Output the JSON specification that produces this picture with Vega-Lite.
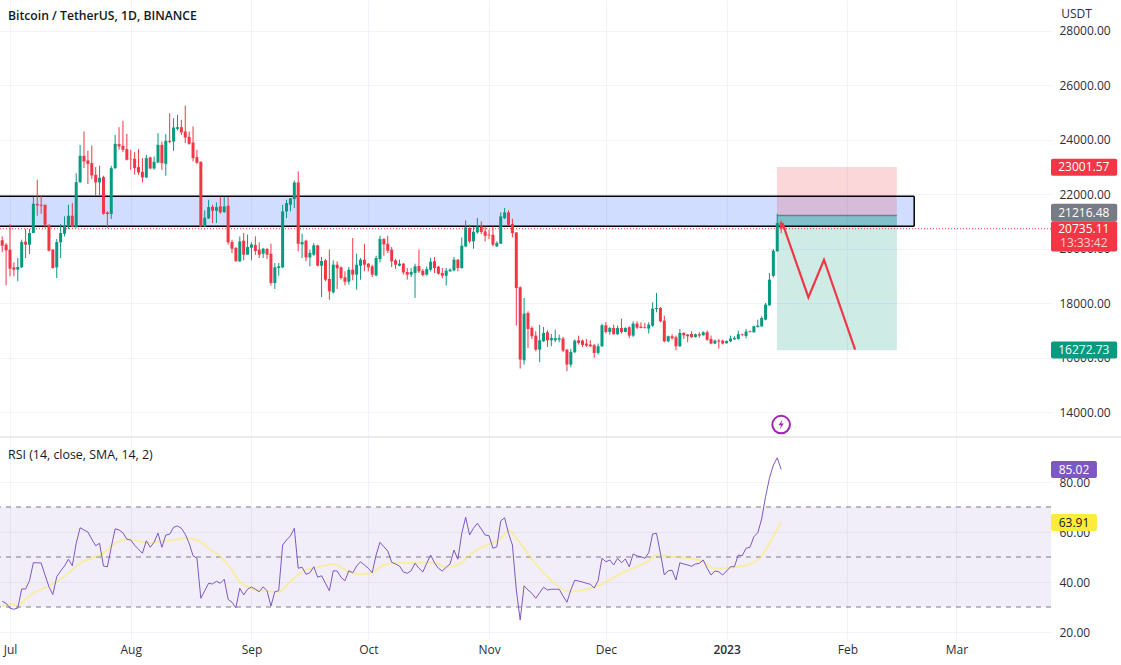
{
"$schema":"https://vega.github.io/schema/vega-lite/v6.json",
"padding":{"left":-1,"top":0,"right":0,"bottom":10},"spacing":0,"bounds":"flush","background":"white",
"config":{"view":{"stroke":null},"font":"Open Sans","concat":{"spacing":0},
"axis":{"gridColor":"#f0f3fa","gridWidth":1,"labelColor":"#2a2e39","labelFontSize":12,"labelFont":"Open Sans","title":null,"ticks":false,"domain":false,"zindex":0}},
"datasets":{
"candles":[
{"d":"2022-06-28","o":20821,"h":20882,"l":20087,"c":20331},
{"d":"2022-06-29","o":20307,"h":20454,"l":19867,"c":20111},
{"d":"2022-06-30","o":20148,"h":20209,"l":18656,"c":19940},
{"d":"2022-07-01","o":19965,"h":20906,"l":18986,"c":19268},
{"d":"2022-07-02","o":19316,"h":19500,"l":18986,"c":19231},
{"d":"2022-07-03","o":19231,"h":19659,"l":18803,"c":19329},
{"d":"2022-07-04","o":19316,"h":20331,"l":19292,"c":20246},
{"d":"2022-07-05","o":20258,"h":20723,"l":19659,"c":20148},
{"d":"2022-07-06","o":20148,"h":20723,"l":19806,"c":20576},
{"d":"2022-07-07","o":20576,"h":21897,"l":20576,"c":21652},
{"d":"2022-07-08","o":21652,"h":22533,"l":21212,"c":21591},
{"d":"2022-07-09","o":21616,"h":21946,"l":21285,"c":21579},
{"d":"2022-07-10","o":21616,"h":21616,"l":20760,"c":20882},
{"d":"2022-07-11","o":20882,"h":20882,"l":19904,"c":19928},
{"d":"2022-07-12","o":19965,"h":19989,"l":19268,"c":19292},
{"d":"2022-07-13","o":19316,"h":20356,"l":18925,"c":20246},
{"d":"2022-07-14","o":20234,"h":20906,"l":19659,"c":20576},
{"d":"2022-07-15","o":20552,"h":21188,"l":20454,"c":20857},
{"d":"2022-07-16","o":20821,"h":21616,"l":20723,"c":21212},
{"d":"2022-07-17","o":21212,"h":21677,"l":20796,"c":20796},
{"d":"2022-07-18","o":20784,"h":22778,"l":20784,"c":22447},
{"d":"2022-07-19","o":22447,"h":23817,"l":22411,"c":23413},
{"d":"2022-07-20","o":23413,"h":24306,"l":22961,"c":23206},
{"d":"2022-07-21","o":23242,"h":23597,"l":22374,"c":23120},
{"d":"2022-07-22","o":23144,"h":23793,"l":22557,"c":22692},
{"d":"2022-07-23","o":22716,"h":22998,"l":21946,"c":22435},
{"d":"2022-07-24","o":22435,"h":23047,"l":21946,"c":22606},
{"d":"2022-07-25","o":22631,"h":22680,"l":21249,"c":21285},
{"d":"2022-07-26","o":21334,"h":21371,"l":20760,"c":21273},
{"d":"2022-07-27","o":21273,"h":23047,"l":21090,"c":22961},
{"d":"2022-07-28","o":22961,"h":24184,"l":22924,"c":23854},
{"d":"2022-07-29","o":23842,"h":24465,"l":23634,"c":23756},
{"d":"2022-07-30","o":23780,"h":24698,"l":23548,"c":23634},
{"d":"2022-07-31","o":23658,"h":24221,"l":23242,"c":23267},
{"d":"2022-08-01","o":23303,"h":23634,"l":22900,"c":23291},
{"d":"2022-08-02","o":23303,"h":23548,"l":22716,"c":22961},
{"d":"2022-08-03","o":22998,"h":23658,"l":22716,"c":22802},
{"d":"2022-08-04","o":22826,"h":23328,"l":22435,"c":22619},
{"d":"2022-08-05","o":22619,"h":23450,"l":22594,"c":23328},
{"d":"2022-08-06","o":23352,"h":23389,"l":22924,"c":22949},
{"d":"2022-08-07","o":22949,"h":23389,"l":22900,"c":23193},
{"d":"2022-08-08","o":23169,"h":24245,"l":23144,"c":23817},
{"d":"2022-08-09","o":23817,"h":23939,"l":22900,"c":23144},
{"d":"2022-08-10","o":23120,"h":24208,"l":22680,"c":23964},
{"d":"2022-08-11","o":23964,"h":24979,"l":23878,"c":23927},
{"d":"2022-08-12","o":23939,"h":24795,"l":23597,"c":24453},
{"d":"2022-08-13","o":24404,"h":24918,"l":24343,"c":24465},
{"d":"2022-08-14","o":24465,"h":24734,"l":24184,"c":24270},
{"d":"2022-08-15","o":24306,"h":25260,"l":23878,"c":24086},
{"d":"2022-08-16","o":24111,"h":24306,"l":23817,"c":23854},
{"d":"2022-08-17","o":23903,"h":24490,"l":23206,"c":23328},
{"d":"2022-08-18","o":23365,"h":23634,"l":23120,"c":23157},
{"d":"2022-08-19","o":23193,"h":23206,"l":20796,"c":20821},
{"d":"2022-08-20","o":20821,"h":21408,"l":20796,"c":21139},
{"d":"2022-08-21","o":21114,"h":21799,"l":21090,"c":21530},
{"d":"2022-08-22","o":21542,"h":21616,"l":20943,"c":21396},
{"d":"2022-08-23","o":21396,"h":21701,"l":20943,"c":21530},
{"d":"2022-08-24","o":21554,"h":21897,"l":21285,"c":21334},
{"d":"2022-08-25","o":21347,"h":21897,"l":21310,"c":21554},
{"d":"2022-08-26","o":21579,"h":21897,"l":20148,"c":20234},
{"d":"2022-08-27","o":20246,"h":20331,"l":19842,"c":20001},
{"d":"2022-08-28","o":20026,"h":20062,"l":19536,"c":19536},
{"d":"2022-08-29","o":19536,"h":20454,"l":19512,"c":20270},
{"d":"2022-08-30","o":20295,"h":20576,"l":19573,"c":19781},
{"d":"2022-08-31","o":19781,"h":20515,"l":19781,"c":20062},
{"d":"2022-09-01","o":20038,"h":20234,"l":19573,"c":20160},
{"d":"2022-09-02","o":20136,"h":20454,"l":19781,"c":19916},
{"d":"2022-09-03","o":19965,"h":20234,"l":19659,"c":19781},
{"d":"2022-09-04","o":19818,"h":20026,"l":19659,"c":20001},
{"d":"2022-09-05","o":19989,"h":20026,"l":19622,"c":19781},
{"d":"2022-09-06","o":19817,"h":20184,"l":18643,"c":18741},
{"d":"2022-09-07","o":18741,"h":19475,"l":18521,"c":19316},
{"d":"2022-09-08","o":19291,"h":19475,"l":19010,"c":19352},
{"d":"2022-09-09","o":19316,"h":21615,"l":19291,"c":21370},
{"d":"2022-09-10","o":21370,"h":21798,"l":21126,"c":21676},
{"d":"2022-09-11","o":21615,"h":21859,"l":21370,"c":21859},
{"d":"2022-09-12","o":21823,"h":22508,"l":21493,"c":22434},
{"d":"2022-09-13","o":22434,"h":22838,"l":19903,"c":20184},
{"d":"2022-09-14","o":20160,"h":20551,"l":19658,"c":20245},
{"d":"2022-09-15","o":20294,"h":20331,"l":19536,"c":19682},
{"d":"2022-09-16","o":19682,"h":19964,"l":19352,"c":19842},
{"d":"2022-09-17","o":19780,"h":20208,"l":19744,"c":20123},
{"d":"2022-09-18","o":20123,"h":20147,"l":19352,"c":19377},
{"d":"2022-09-19","o":19377,"h":19695,"l":18227,"c":19548},
{"d":"2022-09-20","o":19572,"h":19621,"l":18802,"c":18863},
{"d":"2022-09-21","o":18887,"h":19964,"l":18129,"c":18435},
{"d":"2022-09-22","o":18398,"h":19572,"l":18349,"c":19413},
{"d":"2022-09-23","o":19413,"h":19536,"l":18521,"c":19279},
{"d":"2022-09-24","o":19316,"h":19352,"l":18863,"c":18924},
{"d":"2022-09-25","o":18949,"h":19169,"l":18655,"c":18790},
{"d":"2022-09-26","o":18790,"h":19328,"l":18680,"c":19230},
{"d":"2022-09-27","o":19230,"h":20392,"l":18839,"c":19047},
{"d":"2022-09-28","o":19047,"h":19817,"l":18496,"c":19413},
{"d":"2022-09-29","o":19377,"h":19658,"l":18863,"c":19597},
{"d":"2022-09-30","o":19597,"h":20184,"l":19169,"c":19413},
{"d":"2022-10-01","o":19450,"h":19475,"l":19169,"c":19316},
{"d":"2022-10-02","o":19352,"h":19413,"l":18961,"c":19047},
{"d":"2022-10-03","o":19022,"h":19744,"l":18985,"c":19658},
{"d":"2022-10-04","o":19621,"h":20477,"l":19499,"c":20355},
{"d":"2022-10-05","o":20355,"h":20392,"l":19744,"c":20160},
{"d":"2022-10-06","o":20184,"h":20477,"l":19842,"c":19927},
{"d":"2022-10-07","o":19964,"h":20062,"l":19328,"c":19536},
{"d":"2022-10-08","o":19572,"h":19621,"l":19254,"c":19413},
{"d":"2022-10-09","o":19377,"h":19597,"l":19352,"c":19450},
{"d":"2022-10-10","o":19450,"h":19475,"l":19047,"c":19132},
{"d":"2022-10-11","o":19144,"h":19291,"l":18863,"c":19047},
{"d":"2022-10-12","o":19047,"h":19291,"l":18961,"c":19144},
{"d":"2022-10-13","o":19108,"h":19450,"l":18190,"c":19352},
{"d":"2022-10-14","o":19365,"h":19964,"l":19108,"c":19169},
{"d":"2022-10-15","o":19193,"h":19254,"l":18985,"c":19034},
{"d":"2022-10-16","o":19047,"h":19352,"l":19010,"c":19254},
{"d":"2022-10-17","o":19230,"h":19670,"l":19169,"c":19523},
{"d":"2022-10-18","o":19536,"h":19695,"l":19108,"c":19291},
{"d":"2022-10-19","o":19340,"h":19365,"l":19047,"c":19083},
{"d":"2022-10-20","o":19108,"h":19291,"l":18912,"c":19010},
{"d":"2022-10-21","o":19010,"h":19291,"l":18643,"c":19193},
{"d":"2022-10-22","o":19169,"h":19279,"l":19157,"c":19230},
{"d":"2022-10-23","o":19206,"h":19695,"l":19169,"c":19597},
{"d":"2022-10-24","o":19597,"h":19621,"l":19169,"c":19291},
{"d":"2022-10-25","o":19291,"h":20416,"l":19267,"c":20111},
{"d":"2022-10-26","o":20086,"h":21040,"l":20062,"c":20783},
{"d":"2022-10-27","o":20759,"h":20881,"l":20208,"c":20270},
{"d":"2022-10-28","o":20270,"h":20795,"l":20000,"c":20624},
{"d":"2022-10-29","o":20600,"h":21126,"l":20551,"c":20820},
{"d":"2022-10-30","o":20820,"h":21003,"l":20539,"c":20612},
{"d":"2022-10-31","o":20636,"h":20820,"l":20270,"c":20477},
{"d":"2022-11-01","o":20514,"h":20698,"l":20355,"c":20490},
{"d":"2022-11-02","o":20514,"h":20820,"l":20086,"c":20147},
{"d":"2022-11-03","o":20086,"h":20270,"l":20062,"c":20208},
{"d":"2022-11-04","o":20184,"h":21334,"l":20184,"c":21187},
{"d":"2022-11-05","o":21126,"h":21493,"l":21089,"c":21334},
{"d":"2022-11-06","o":21334,"h":21407,"l":20857,"c":20881},
{"d":"2022-11-07","o":20905,"h":21101,"l":20416,"c":20575},
{"d":"2022-11-08","o":20600,"h":20600,"l":17175,"c":18557},
{"d":"2022-11-09","o":18582,"h":18618,"l":15598,"c":15928},
{"d":"2022-11-10","o":15903,"h":18190,"l":15744,"c":17616},
{"d":"2022-11-11","o":17640,"h":17701,"l":16356,"c":17053},
{"d":"2022-11-12","o":17089,"h":17151,"l":16686,"c":16784},
{"d":"2022-11-13","o":16808,"h":16967,"l":16233,"c":16294},
{"d":"2022-11-14","o":16294,"h":17212,"l":15830,"c":16637},
{"d":"2022-11-15","o":16600,"h":17126,"l":16576,"c":16906},
{"d":"2022-11-16","o":16930,"h":17004,"l":16392,"c":16637},
{"d":"2022-11-17","o":16637,"h":16869,"l":16417,"c":16722},
{"d":"2022-11-18","o":16637,"h":17028,"l":16564,"c":16710},
{"d":"2022-11-19","o":16661,"h":16845,"l":16564,"c":16710},
{"d":"2022-11-20","o":16698,"h":16759,"l":16197,"c":16258},
{"d":"2022-11-21","o":16294,"h":16319,"l":15499,"c":15744},
{"d":"2022-11-22","o":15744,"h":16319,"l":15646,"c":16209},
{"d":"2022-11-23","o":16197,"h":16661,"l":16172,"c":16625},
{"d":"2022-11-24","o":16637,"h":16808,"l":16478,"c":16539},
{"d":"2022-11-25","o":16625,"h":16661,"l":16392,"c":16466},
{"d":"2022-11-26","o":16515,"h":16686,"l":16392,"c":16441},
{"d":"2022-11-27","o":16478,"h":16637,"l":16392,"c":16417},
{"d":"2022-11-28","o":16454,"h":16502,"l":15989,"c":16172},
{"d":"2022-11-29","o":16172,"h":16515,"l":16111,"c":16417},
{"d":"2022-11-30","o":16417,"h":17248,"l":16392,"c":17187},
{"d":"2022-12-01","o":17187,"h":17310,"l":16882,"c":16943},
{"d":"2022-12-02","o":16943,"h":17126,"l":16845,"c":17089},
{"d":"2022-12-03","o":17089,"h":17212,"l":16845,"c":16857},
{"d":"2022-12-04","o":16857,"h":17175,"l":16845,"c":17089},
{"d":"2022-12-05","o":17089,"h":17432,"l":16882,"c":16943},
{"d":"2022-12-06","o":16943,"h":17114,"l":16930,"c":17089},
{"d":"2022-12-07","o":17114,"h":17151,"l":16710,"c":16808},
{"d":"2022-12-08","o":16808,"h":17334,"l":16759,"c":17248},
{"d":"2022-12-09","o":17248,"h":17334,"l":17053,"c":17102},
{"d":"2022-12-10","o":17138,"h":17298,"l":17077,"c":17089},
{"d":"2022-12-11","o":17114,"h":17273,"l":17065,"c":17089},
{"d":"2022-12-12","o":17065,"h":17298,"l":16882,"c":17212},
{"d":"2022-12-13","o":17175,"h":18031,"l":17126,"c":17799},
{"d":"2022-12-14","o":17787,"h":18374,"l":17664,"c":17823},
{"d":"2022-12-15","o":17823,"h":17860,"l":17297,"c":17334},
{"d":"2022-12-16","o":17358,"h":17542,"l":16564,"c":16600},
{"d":"2022-12-17","o":16600,"h":16808,"l":16564,"c":16784},
{"d":"2022-12-18","o":16784,"h":16857,"l":16661,"c":16710},
{"d":"2022-12-19","o":16747,"h":16808,"l":16270,"c":16417},
{"d":"2022-12-20","o":16417,"h":17053,"l":16392,"c":16906},
{"d":"2022-12-21","o":16906,"h":16930,"l":16686,"c":16820},
{"d":"2022-12-22","o":16845,"h":16869,"l":16564,"c":16784},
{"d":"2022-12-23","o":16869,"h":16967,"l":16735,"c":16747},
{"d":"2022-12-24","o":16759,"h":16882,"l":16735,"c":16857},
{"d":"2022-12-25","o":16857,"h":16930,"l":16735,"c":16808},
{"d":"2022-12-26","o":16820,"h":16967,"l":16808,"c":16930},
{"d":"2022-12-27","o":16930,"h":16992,"l":16612,"c":16661},
{"d":"2022-12-28","o":16686,"h":16808,"l":16490,"c":16515},
{"d":"2022-12-29","o":16515,"h":16661,"l":16502,"c":16625},
{"d":"2022-12-30","o":16625,"h":16686,"l":16331,"c":16588},
{"d":"2022-12-31","o":16625,"h":16661,"l":16478,"c":16515},
{"d":"2023-01-01","o":16527,"h":16625,"l":16515,"c":16612},
{"d":"2023-01-02","o":16600,"h":16808,"l":16564,"c":16698},
{"d":"2023-01-03","o":16674,"h":16784,"l":16649,"c":16722},
{"d":"2023-01-04","o":16686,"h":16992,"l":16661,"c":16857},
{"d":"2023-01-05","o":16857,"h":16882,"l":16784,"c":16833},
{"d":"2023-01-06","o":16796,"h":17053,"l":16710,"c":16955},
{"d":"2023-01-07","o":16967,"h":16992,"l":16918,"c":16943},
{"d":"2023-01-08","o":16930,"h":17175,"l":16918,"c":17151},
{"d":"2023-01-09","o":17126,"h":17395,"l":17102,"c":17175},
{"d":"2023-01-10","o":17151,"h":17517,"l":17126,"c":17456},
{"d":"2023-01-11","o":17395,"h":18007,"l":17371,"c":17946},
{"d":"2023-01-12","o":17921,"h":19107,"l":17909,"c":18863},
{"d":"2023-01-13","o":19002,"h":19988,"l":18941,"c":19927},
{"d":"2023-01-14","o":19902,"h":21284,"l":19902,"c":20942},
{"d":"2023-01-15","o":20966,"h":21040,"l":20575,"c":20735}
],
"rsi":[
{"d":"2022-06-29","v":32.3},{"d":"2022-06-30","v":31.5},{"d":"2022-07-01","v":29.5},{"d":"2022-07-02","v":29.1},{"d":"2022-07-03","v":29.6},{"d":"2022-07-04","v":37.2},{"d":"2022-07-05","v":37.2},{"d":"2022-07-06","v":40.5},{"d":"2022-07-07","v":47.7},{"d":"2022-07-08","v":47.7},{"d":"2022-07-09","v":47.6},{"d":"2022-07-10","v":42.8},{"d":"2022-07-11","v":38.1},{"d":"2022-07-12","v":35.0},{"d":"2022-07-13","v":42.1},{"d":"2022-07-14","v":44.4},{"d":"2022-07-15","v":46.4},{"d":"2022-07-16","v":49.1},{"d":"2022-07-17","v":46.5},{"d":"2022-07-18","v":55.5},{"d":"2022-07-19","v":61.7},{"d":"2022-07-20","v":60.8},{"d":"2022-07-21","v":60.0},{"d":"2022-07-22","v":57.1},{"d":"2022-07-23","v":54.5},{"d":"2022-07-24","v":55.5},{"d":"2022-07-25","v":46.4},{"d":"2022-07-26","v":46.1},{"d":"2022-07-27","v":53.9},{"d":"2022-07-28","v":61.3},{"d":"2022-07-29","v":60.8},{"d":"2022-07-30","v":59.7},{"d":"2022-07-31","v":57.1},
{"d":"2022-08-01","v":56.8},{"d":"2022-08-02","v":54.7},{"d":"2022-08-03","v":53.1},{"d":"2022-08-04","v":51.5},{"d":"2022-08-05","v":56.5},{"d":"2022-08-06","v":53.9},{"d":"2022-08-07","v":55.9},{"d":"2022-08-08","v":59.6},{"d":"2022-08-09","v":53.9},{"d":"2022-08-10","v":58.8},{"d":"2022-08-11","v":59.1},{"d":"2022-08-12","v":61.9},{"d":"2022-08-13","v":62.4},{"d":"2022-08-14","v":61.5},{"d":"2022-08-15","v":59.1},{"d":"2022-08-16","v":55.5},{"d":"2022-08-17","v":50.5},{"d":"2022-08-18","v":49.5},{"d":"2022-08-19","v":33.5},{"d":"2022-08-20","v":36.5},{"d":"2022-08-21","v":39.5},{"d":"2022-08-22","v":39.2},{"d":"2022-08-23","v":40.3},{"d":"2022-08-24","v":39.5},{"d":"2022-08-25","v":41.1},{"d":"2022-08-26","v":33.1},{"d":"2022-08-27","v":31.9},{"d":"2022-08-28","v":29.7},{"d":"2022-08-29","v":37.5},{"d":"2022-08-30","v":34.8},{"d":"2022-08-31","v":37.1},
{"d":"2022-09-01","v":38.0},{"d":"2022-09-02","v":37.1},{"d":"2022-09-03","v":36.1},{"d":"2022-09-04","v":38.1},{"d":"2022-09-05","v":36.5},{"d":"2022-09-06","v":30.4},{"d":"2022-09-07","v":36.1},{"d":"2022-09-08","v":36.5},{"d":"2022-09-09","v":54.8},{"d":"2022-09-10","v":56.8},{"d":"2022-09-11","v":58.4},{"d":"2022-09-12","v":61.5},{"d":"2022-09-13","v":45.5},{"d":"2022-09-14","v":45.9},{"d":"2022-09-15","v":43.1},{"d":"2022-09-16","v":43.7},{"d":"2022-09-17","v":46.1},{"d":"2022-09-18","v":41.9},{"d":"2022-09-19","v":42.5},{"d":"2022-09-20","v":39.5},{"d":"2022-09-21","v":36.5},{"d":"2022-09-22","v":44.5},{"d":"2022-09-23","v":44.4},{"d":"2022-09-24","v":41.9},{"d":"2022-09-25","v":40.5},{"d":"2022-09-26","v":44.5},{"d":"2022-09-27","v":43.7},{"d":"2022-09-28","v":46.4},{"d":"2022-09-29","v":48.1},{"d":"2022-09-30","v":46.8},
{"d":"2022-10-01","v":45.5},{"d":"2022-10-02","v":43.7},{"d":"2022-10-03","v":50.8},{"d":"2022-10-04","v":55.9},{"d":"2022-10-05","v":54.1},{"d":"2022-10-06","v":52.4},{"d":"2022-10-07","v":47.9},{"d":"2022-10-08","v":47.2},{"d":"2022-10-09","v":46.4},{"d":"2022-10-10","v":44.0},{"d":"2022-10-11","v":43.5},{"d":"2022-10-12","v":44.5},{"d":"2022-10-13","v":47.5},{"d":"2022-10-14","v":45.5},{"d":"2022-10-15","v":44.0},{"d":"2022-10-16","v":47.5},{"d":"2022-10-17","v":50.8},{"d":"2022-10-18","v":47.7},{"d":"2022-10-19","v":45.5},{"d":"2022-10-20","v":44.4},{"d":"2022-10-21","v":45.9},{"d":"2022-10-22","v":47.2},{"d":"2022-10-23","v":52.8},{"d":"2022-10-24","v":49.1},{"d":"2022-10-25","v":59.5},{"d":"2022-10-26","v":65.9},{"d":"2022-10-27","v":58.8},{"d":"2022-10-28","v":61.5},{"d":"2022-10-29","v":63.5},{"d":"2022-10-30","v":61.2},{"d":"2022-10-31","v":58.8},
{"d":"2022-11-01","v":58.5},{"d":"2022-11-02","v":53.5},{"d":"2022-11-03","v":54.1},{"d":"2022-11-04","v":64.4},{"d":"2022-11-05","v":65.7},{"d":"2022-11-06","v":59.5},{"d":"2022-11-07","v":54.8},{"d":"2022-11-08","v":36.8},{"d":"2022-11-09","v":24.8},{"d":"2022-11-10","v":38.5},{"d":"2022-11-11","v":36.8},{"d":"2022-11-12","v":35.5},{"d":"2022-11-13","v":33.5},{"d":"2022-11-14","v":35.7},{"d":"2022-11-15","v":37.9},{"d":"2022-11-16","v":36.8},{"d":"2022-11-17","v":37.1},{"d":"2022-11-18","v":37.1},{"d":"2022-11-19","v":37.1},{"d":"2022-11-20","v":34.4},{"d":"2022-11-21","v":31.9},{"d":"2022-11-22","v":36.8},{"d":"2022-11-23","v":40.7},{"d":"2022-11-24","v":40.4},{"d":"2022-11-25","v":40.0},{"d":"2022-11-26","v":39.5},{"d":"2022-11-27","v":39.1},{"d":"2022-11-28","v":37.6},{"d":"2022-11-29","v":40.5},{"d":"2022-11-30","v":49.5},
{"d":"2022-12-01","v":48.1},{"d":"2022-12-02","v":48.8},{"d":"2022-12-03","v":46.8},{"d":"2022-12-04","v":49.5},{"d":"2022-12-05","v":47.7},{"d":"2022-12-06","v":49.2},{"d":"2022-12-07","v":46.1},{"d":"2022-12-08","v":51.2},{"d":"2022-12-09","v":50.4},{"d":"2022-12-10","v":50.1},{"d":"2022-12-11","v":49.5},{"d":"2022-12-12","v":51.7},{"d":"2022-12-13","v":59.2},{"d":"2022-12-14","v":59.5},{"d":"2022-12-15","v":51.5},{"d":"2022-12-16","v":42.8},{"d":"2022-12-17","v":44.5},{"d":"2022-12-18","v":44.7},{"d":"2022-12-19","v":40.8},{"d":"2022-12-20","v":47.7},{"d":"2022-12-21","v":47.2},{"d":"2022-12-22","v":46.8},{"d":"2022-12-23","v":46.3},{"d":"2022-12-24","v":47.2},{"d":"2022-12-25","v":47.5},{"d":"2022-12-26","v":48.8},{"d":"2022-12-27","v":45.5},{"d":"2022-12-28","v":42.8},{"d":"2022-12-29","v":44.4},{"d":"2022-12-30","v":44.1},{"d":"2022-12-31","v":42.8},
{"d":"2023-01-01","v":44.4},{"d":"2023-01-02","v":46.1},{"d":"2023-01-03","v":46.1},{"d":"2023-01-04","v":50.8},{"d":"2023-01-05","v":50.5},{"d":"2023-01-06","v":53.5},{"d":"2023-01-07","v":53.9},{"d":"2023-01-08","v":58.1},{"d":"2023-01-09","v":59.7},{"d":"2023-01-10","v":65.2},{"d":"2023-01-11","v":74.1},{"d":"2023-01-12","v":81.5},{"d":"2023-01-13","v":86.8},{"d":"2023-01-14","v":89.7},{"d":"2023-01-15","v":85.02}
],
"ma":[
{"d":"2022-06-29","v":30.5},{"d":"2022-07-01","v":31.2},{"d":"2022-07-03","v":30.8},{"d":"2022-07-05","v":33.1},{"d":"2022-07-07","v":35.5},{"d":"2022-07-10","v":37.7},{"d":"2022-07-13","v":40.1},{"d":"2022-07-16","v":43.5},{"d":"2022-07-19","v":47.5},{"d":"2022-07-22","v":49.5},{"d":"2022-07-25","v":51.5},{"d":"2022-07-28","v":55.5},{"d":"2022-07-31","v":57.1},{"d":"2022-08-03","v":56.4},{"d":"2022-08-06","v":55.5},{"d":"2022-08-09","v":56.4},{"d":"2022-08-12","v":56.8},{"d":"2022-08-15","v":57.5},{"d":"2022-08-18","v":56.8},{"d":"2022-08-21","v":53.5},{"d":"2022-08-24","v":50.1},{"d":"2022-08-27","v":44.8},{"d":"2022-08-29","v":40.1},{"d":"2022-09-01","v":37.5},{"d":"2022-09-04","v":36.5},{"d":"2022-09-08","v":36.1},{"d":"2022-09-11","v":40.1},{"d":"2022-09-14","v":44.1},{"d":"2022-09-18","v":45.9},{"d":"2022-09-22","v":47.1},{"d":"2022-09-26","v":44.1},{"d":"2022-09-29","v":43.1},{"d":"2022-10-02","v":43.7},{"d":"2022-10-05","v":46.8},{"d":"2022-10-09","v":47.7},{"d":"2022-10-13","v":47.7},{"d":"2022-10-18","v":47.7},{"d":"2022-10-21","v":45.9},{"d":"2022-10-24","v":46.8},{"d":"2022-10-28","v":52.1},{"d":"2022-11-01","v":55.2},{"d":"2022-11-04","v":57.5},{"d":"2022-11-06","v":60.5},{"d":"2022-11-09","v":55.5},{"d":"2022-11-12","v":49.1},{"d":"2022-11-16","v":42.1},{"d":"2022-11-19","v":37.9},{"d":"2022-11-22","v":36.1},{"d":"2022-11-26","v":37.1},{"d":"2022-11-30","v":39.2},{"d":"2022-12-05","v":43.5},{"d":"2022-12-08","v":45.5},{"d":"2022-12-12","v":48.5},{"d":"2022-12-14","v":50.8},{"d":"2022-12-18","v":50.1},{"d":"2022-12-23","v":49.5},{"d":"2022-12-26","v":48.1},{"d":"2022-12-29","v":45.5},{"d":"2023-01-03","v":45.9},{"d":"2023-01-07","v":47.2},{"d":"2023-01-10","v":50.4},{"d":"2023-01-12","v":55.5},{"d":"2023-01-14","v":61.1},{"d":"2023-01-15","v":63.91}
]
},
"vconcat":[
{"width":1051,"height":437,"resolve":{"scale":{"color":"independent"}},"layer":[
{"data":{"values":[{"d":"2022-06-28T10:22:00Z","d2":"2023-02-18T04:00:00Z","p":21926,"p2":20826}]},
 "mark":{"type":"rect","fill":"#2962ff","fillOpacity":0.22},
 "encoding":{"x":{"field":"d","type":"temporal","scale":{"type":"utc","padding":0,"domain":["2022-06-28T10:22:00Z","2023-03-25T07:00:00Z"]},
   "axis":{"title":null,"values":[1656633600000,1659312000000,1661990400000,1664582400000,1667260800000,1669852800000,1672531200000,1675209600000,1677628800000],"labels":false,"grid":true}},
  "x2":{"field":"d2"},
  "y":{"field":"p","type":"quantitative","scale":{"domain":[13083,29138],"nice":false,"zero":false},
   "axis":{"title":null,"orient":"right","values":[14000,16000,18000,20000,22000,24000,26000,28000],"format":".2f","labelPadding":8,"grid":true}},
  "y2":{"field":"p2"}}},
{"data":{"values":[
 {"d":"2023-01-13T22:00:00Z","d2":"2023-02-13T17:00:00Z","p":23001.57,"p2":21216.48,"k":"risk"},
 {"d":"2023-01-13T22:00:00Z","d2":"2023-02-13T17:00:00Z","p":21216.48,"p2":16272.73,"k":"reward"},
 {"d":"2023-01-13T22:00:00Z","d2":"2023-02-13T17:00:00Z","p":21216.48,"p2":20826,"k":"overlap"}]},
 "mark":{"type":"rect"},
 "encoding":{"x":{"field":"d","type":"temporal","scale":{"type":"utc","padding":0,"domain":["2022-06-28T10:22:00Z","2023-03-25T07:00:00Z"]}},"x2":{"field":"d2"},
  "y":{"field":"p","type":"quantitative","scale":{"domain":[13083,29138],"nice":false,"zero":false}},"y2":{"field":"p2"},
  "color":{"field":"k","type":"nominal","legend":null,"scale":{"domain":["risk","reward","overlap"],"range":["rgba(242,54,69,0.2)","rgba(8,153,129,0.2)","rgba(8,153,129,0.25)"]}}}},
{"data":{"values":[{"d":"2022-06-28T10:22:00Z","d2":"2023-02-18T04:00:00Z","p":21926},{"d":"2022-06-28T10:22:00Z","d2":"2023-02-18T04:00:00Z","p":20826}]},
 "mark":{"type":"rule","color":"#000000","strokeWidth":1.5},
 "encoding":{"x":{"field":"d","type":"temporal","scale":{"type":"utc","padding":0,"domain":["2022-06-28T10:22:00Z","2023-03-25T07:00:00Z"]}},"x2":{"field":"d2"},
  "y":{"field":"p","type":"quantitative","scale":{"domain":[13083,29138],"nice":false,"zero":false}}}},
{"data":{"values":[{"d":"2023-02-18T04:00:00Z","p":21926,"p2":20826}]},
 "mark":{"type":"rule","color":"#000000","strokeWidth":1.5},
 "encoding":{"x":{"field":"d","type":"temporal","scale":{"type":"utc","padding":0,"domain":["2022-06-28T10:22:00Z","2023-03-25T07:00:00Z"]}},
  "y":{"field":"p","type":"quantitative","scale":{"domain":[13083,29138],"nice":false,"zero":false}},"y2":{"field":"p2"}}},
{"data":{"values":[{"d":"2023-01-13T22:00:00Z","d2":"2023-02-13T17:00:00Z","p":21216.48}]},
 "mark":{"type":"rule","color":"#787b86","strokeWidth":1.5},
 "encoding":{"x":{"field":"d","type":"temporal","scale":{"type":"utc","padding":0,"domain":["2022-06-28T10:22:00Z","2023-03-25T07:00:00Z"]}},"x2":{"field":"d2"},
  "y":{"field":"p","type":"quantitative","scale":{"domain":[13083,29138],"nice":false,"zero":false}}}},
{"data":{"values":[{"p":20735.11}]},
 "mark":{"type":"rule","color":"#f23645","strokeWidth":1,"strokeDash":[1,2]},
 "encoding":{"y":{"field":"p","type":"quantitative","scale":{"domain":[13083,29138],"nice":false,"zero":false}}}},
{"data":{"name":"candles"},
 "mark":{"type":"rule","strokeWidth":1,"clip":true},
 "encoding":{"x":{"field":"d","type":"temporal","scale":{"type":"utc","padding":0,"domain":["2022-06-28T10:22:00Z","2023-03-25T07:00:00Z"]}},
  "y":{"field":"h","type":"quantitative","scale":{"domain":[13083,29138],"nice":false,"zero":false}},"y2":{"field":"l"},
  "color":{"condition":{"test":"datum.c>=datum.o","value":"#089981"},"value":"#f23645"}}},
{"data":{"name":"candles"},
 "mark":{"type":"bar","size":3,"clip":true},
 "encoding":{"x":{"field":"d","type":"temporal","scale":{"type":"utc","padding":0,"domain":["2022-06-28T10:22:00Z","2023-03-25T07:00:00Z"]}},
  "y":{"field":"o","type":"quantitative","scale":{"domain":[13083,29138],"nice":false,"zero":false}},"y2":{"field":"c"},
  "color":{"condition":{"test":"datum.c>=datum.o","value":"#089981"},"value":"#f23645"}}},
{"data":{"values":[{"d":"2023-01-15T08:00:00Z","p":20943},{"d":"2023-01-22T00:00:00Z","p":18213},{"d":"2023-01-26T00:00:00Z","p":19596},{"d":"2023-02-03T00:00:00Z","p":16293}]},
 "mark":{"type":"line","color":"#f23645","strokeWidth":2.2},
 "encoding":{"x":{"field":"d","type":"temporal","scale":{"type":"utc","padding":0,"domain":["2022-06-28T10:22:00Z","2023-03-25T07:00:00Z"]}},
  "y":{"field":"p","type":"quantitative","scale":{"domain":[13083,29138],"nice":false,"zero":false}}}},
{"data":{"values":[{"d":"2022-06-28T10:22:00Z","d2":"2023-04-12T08:00:00Z","p":13083}]},
 "mark":{"type":"rule","color":"#d6d6d6","strokeWidth":1},
 "encoding":{"x":{"field":"d","type":"temporal","scale":{"type":"utc","padding":0,"domain":["2022-06-28T10:22:00Z","2023-03-25T07:00:00Z"]}},"x2":{"field":"d2"},
  "y":{"field":"p","type":"quantitative","scale":{"domain":[13083,29138],"nice":false,"zero":false}}}},
{"data":{"values":[{"d":"2023-01-15","p":13540}]},
 "mark":{"type":"point","shape":"circle","filled":false,"size":310,"color":"#9c27b0","strokeWidth":2,"opacity":1},
 "encoding":{"x":{"field":"d","type":"temporal","scale":{"type":"utc","padding":0,"domain":["2022-06-28T10:22:00Z","2023-03-25T07:00:00Z"]}},
  "y":{"field":"p","type":"quantitative","scale":{"domain":[13083,29138],"nice":false,"zero":false}}}},
{"data":{"values":[{"d":"2023-01-15","p":13540}]},
 "mark":{"type":"point","shape":"M0.3,-1 L-0.5,0.15 L0,0.15 L-0.3,1 L0.5,-0.2 L0,-0.2 Z","filled":true,"size":110,"color":"#9c27b0","opacity":1},
 "encoding":{"x":{"field":"d","type":"temporal","scale":{"type":"utc","padding":0,"domain":["2022-06-28T10:22:00Z","2023-03-25T07:00:00Z"]}},
  "y":{"field":"p","type":"quantitative","scale":{"domain":[13083,29138],"nice":false,"zero":false}}}},
{"data":{"values":[
 {"d":"2023-03-25T07:00:00Z","d2":"2023-04-11T07:00:00Z","p":23303,"p2":22679,"k":"stop"},
 {"d":"2023-03-25T07:00:00Z","d2":"2023-04-11T07:00:00Z","p":21651,"p2":21005,"k":"entry"},
 {"d":"2023-03-25T07:00:00Z","d2":"2023-04-11T07:00:00Z","p":21005,"p2":19900,"k":"last"},
 {"d":"2023-03-25T07:00:00Z","d2":"2023-04-11T07:00:00Z","p":16587,"p2":15963,"k":"target"}]},
 "mark":{"type":"rect","cornerRadius":2},
 "encoding":{"x":{"field":"d","type":"temporal","scale":{"type":"utc","padding":0,"domain":["2022-06-28T10:22:00Z","2023-03-25T07:00:00Z"]}},"x2":{"field":"d2"},
  "y":{"field":"p","type":"quantitative","scale":{"domain":[13083,29138],"nice":false,"zero":false}},"y2":{"field":"p2"},
  "color":{"field":"k","type":"nominal","legend":null,"scale":{"domain":["stop","entry","last","target"],"range":["#f23645","#787b86","#f23645","#089981"]}}}},
{"data":{"values":[
 {"d":"2023-04-02T17:00:00Z","p":23001,"t":"23001.57"},
 {"d":"2023-04-02T17:00:00Z","p":21328,"t":"21216.48"},
 {"d":"2023-04-02T17:00:00Z","p":20715,"t":"20735.11"},
 {"d":"2023-04-02T17:00:00Z","p":16272,"t":"16272.73"}]},
 "mark":{"type":"text","color":"#ffffff","fontSize":12,"fontWeight":500,"align":"center","baseline":"middle"},
 "encoding":{"x":{"field":"d","type":"temporal","scale":{"type":"utc","padding":0,"domain":["2022-06-28T10:22:00Z","2023-03-25T07:00:00Z"]}},
  "y":{"field":"p","type":"quantitative","scale":{"domain":[13083,29138],"nice":false,"zero":false}},"text":{"field":"t"}}},
{"data":{"values":[{"d":"2023-04-02T17:00:00Z","p":20202,"t":"13:33:42"}]},
 "mark":{"type":"text","color":"#ffffff","opacity":0.75,"fontSize":12,"align":"center","baseline":"middle"},
 "encoding":{"x":{"field":"d","type":"temporal","scale":{"type":"utc","padding":0,"domain":["2022-06-28T10:22:00Z","2023-03-25T07:00:00Z"]}},
  "y":{"field":"p","type":"quantitative","scale":{"domain":[13083,29138],"nice":false,"zero":false}},"text":{"field":"t"}}},
{"data":{"values":[{"d":"2023-03-27T22:00:00Z","p":28624,"t":"USDT"}]},
 "mark":{"type":"text","color":"#2a2e39","fontSize":12,"align":"left","baseline":"middle"},
 "encoding":{"x":{"field":"d","type":"temporal","scale":{"type":"utc","padding":0,"domain":["2022-06-28T10:22:00Z","2023-03-25T07:00:00Z"]}},
  "y":{"field":"p","type":"quantitative","scale":{"domain":[13083,29138],"nice":false,"zero":false}},"text":{"field":"t"}}},
{"data":{"values":[{"d":"2022-06-30T12:00:00Z","p":28551,"t":"Bitcoin / TetherUS, 1D, BINANCE"}]},
 "mark":{"type":"text","color":"#131722","fontSize":12.2,"fontWeight":600,"align":"left","baseline":"middle"},
 "encoding":{"x":{"field":"d","type":"temporal","scale":{"type":"utc","padding":0,"domain":["2022-06-28T10:22:00Z","2023-03-25T07:00:00Z"]}},
  "y":{"field":"p","type":"quantitative","scale":{"domain":[13083,29138],"nice":false,"zero":false}},"text":{"field":"t"}}}
]},
{"width":1051,"height":203,"resolve":{"scale":{"color":"independent"}},"layer":[
{"data":{"values":[{"d":"2022-06-28T10:22:00Z","d2":"2023-03-25T07:00:00Z","v":70,"v2":30}]},
 "mark":{"type":"rect","fill":"#7e57c2","fillOpacity":0.1},
 "encoding":{"x":{"field":"d","type":"temporal","scale":{"type":"utc","domain":["2022-06-28T10:22:00Z","2023-03-25T07:00:00Z"]},
   "axis":{"title":null,"values":[1656633600000,1659312000000,1661990400000,1664582400000,1667260800000,1669852800000,1672531200000,1675209600000,1677628800000],"grid":true,"labelPadding":4,"labelFlush":false,"labelBound":false,"labelOverlap":false,
    "labelExpr":"utcyear(datum.value)==2023&&utcmonth(datum.value)==0?'2023':utcFormat(datum.value,'%b')","labelFontWeight":{"condition":{"test":"utcyear(datum.value)==2023&&utcmonth(datum.value)==0","value":600},"value":400}}},
  "x2":{"field":"d2"},
  "y":{"field":"v","type":"quantitative","scale":{"domain":[16.8,98],"nice":false,"zero":false},
   "axis":{"title":null,"orient":"right","values":[20,40,60,80],"format":".2f","labelPadding":8,"grid":true}},
  "y2":{"field":"v2"}}},
{"data":{"values":[{"v":30},{"v":50},{"v":70}]},
 "mark":{"type":"rule","color":"#787b86","strokeWidth":1,"strokeDash":[5,5]},
 "encoding":{"y":{"field":"v","type":"quantitative","scale":{"domain":[16.8,98],"nice":false,"zero":false}}}},
{"data":{"name":"ma"},
 "mark":{"type":"line","color":"#ffeb3b","strokeWidth":2,"opacity":0.45,"interpolate":"monotone","clip":true},
 "encoding":{"x":{"field":"d","type":"temporal","scale":{"type":"utc","domain":["2022-06-28T10:22:00Z","2023-03-25T07:00:00Z"]}},
  "y":{"field":"v","type":"quantitative","scale":{"domain":[16.8,98],"nice":false,"zero":false}}}},
{"data":{"name":"rsi"},
 "mark":{"type":"line","color":"#7e57c2","strokeWidth":1,"clip":true},
 "encoding":{"x":{"field":"d","type":"temporal","scale":{"type":"utc","domain":["2022-06-28T10:22:00Z","2023-03-25T07:00:00Z"]}},
  "y":{"field":"v","type":"quantitative","scale":{"domain":[16.8,98],"nice":false,"zero":false}}}},
{"data":{"values":[
 {"d":"2023-03-25T07:00:00Z","d2":"2023-04-06T02:00:00Z","v":88.4,"v2":81.6,"k":"rsi"},
 {"d":"2023-03-25T07:00:00Z","d2":"2023-04-06T02:00:00Z","v":67.2,"v2":60.4,"k":"ma"}]},
 "mark":{"type":"rect","cornerRadius":2},
 "encoding":{"x":{"field":"d","type":"temporal","scale":{"type":"utc","domain":["2022-06-28T10:22:00Z","2023-03-25T07:00:00Z"]}},"x2":{"field":"d2"},
  "y":{"field":"v","type":"quantitative","scale":{"domain":[16.8,98],"nice":false,"zero":false}},"y2":{"field":"v2"},
  "color":{"field":"k","type":"nominal","legend":null,"scale":{"domain":["rsi","ma"],"range":["#7e57c2","#ffeb3b"]}}}},
{"data":{"values":[{"d":"2023-03-31T05:00:00Z","v":85,"t":"85.02","k":"rsi"},{"d":"2023-03-31T05:00:00Z","v":63.8,"t":"63.91","k":"ma"}]},
 "mark":{"type":"text","fontSize":12,"align":"center","baseline":"middle"},
 "encoding":{"x":{"field":"d","type":"temporal","scale":{"type":"utc","domain":["2022-06-28T10:22:00Z","2023-03-25T07:00:00Z"]}},
  "y":{"field":"v","type":"quantitative","scale":{"domain":[16.8,98],"nice":false,"zero":false}},"text":{"field":"t"},
  "color":{"field":"k","type":"nominal","legend":null,"scale":{"domain":["rsi","ma"],"range":["#ffffff","#131722"]}}}},
{"data":{"values":[{"d":"2022-06-30T12:00:00Z","v":91,"t":"RSI (14, close, SMA, 14, 2)"}]},
 "mark":{"type":"text","color":"#131722","fontSize":12.4,"align":"left","baseline":"middle"},
 "encoding":{"x":{"field":"d","type":"temporal","scale":{"type":"utc","domain":["2022-06-28T10:22:00Z","2023-03-25T07:00:00Z"]}},
  "y":{"field":"v","type":"quantitative","scale":{"domain":[16.8,98],"nice":false,"zero":false}},"text":{"field":"t"}}}
]}
]
}
